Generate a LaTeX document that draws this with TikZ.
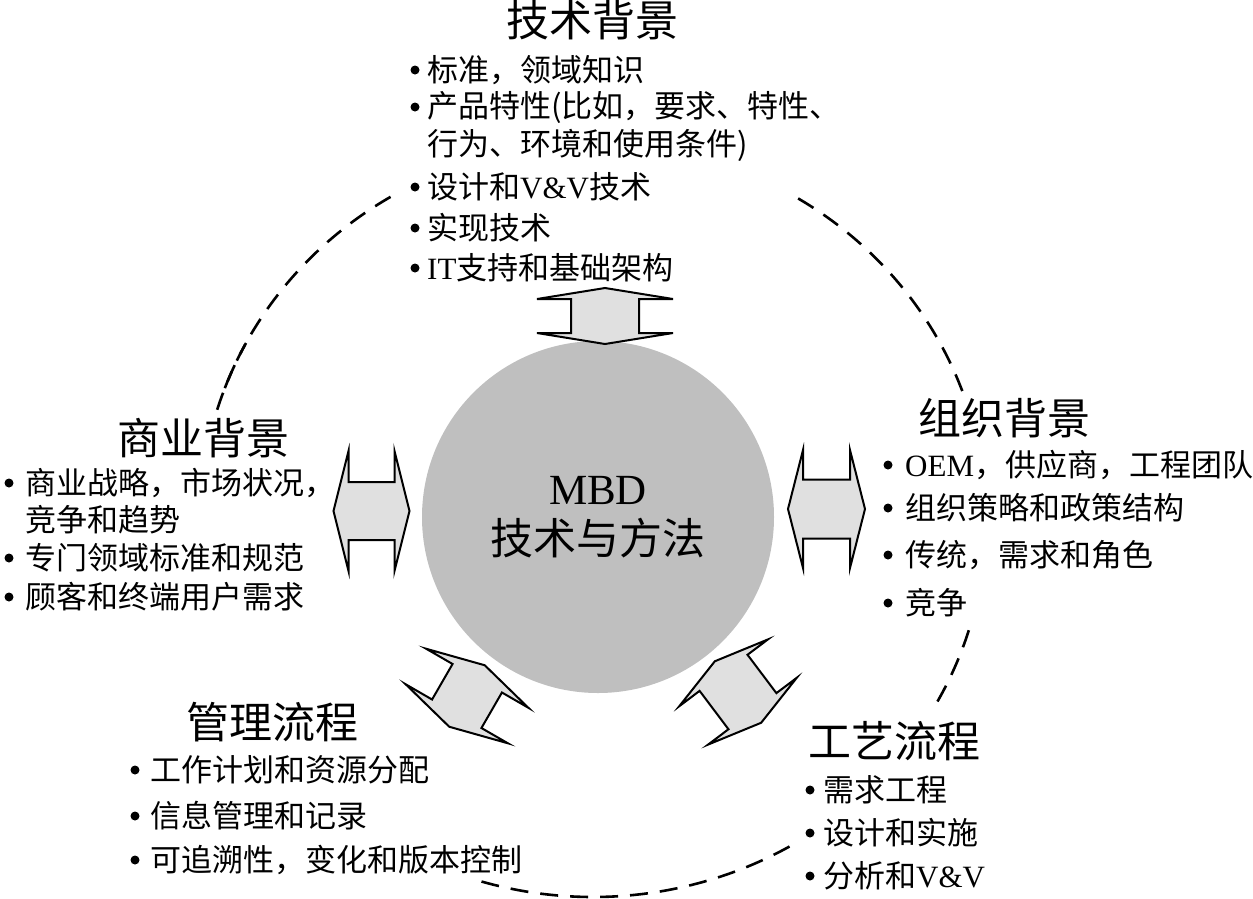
\documentclass[tikz,border=0pt]{standalone}
\usepackage{fontspec}
\setmainfont{Liberation Serif}
\newfontfamily\cjk{Noto Sans CJK SC}
\newcommand\lat[1]{{\rmfamily #1}}

% double block arrow: half shaft length, head length, half shaft width, half head width
\newcommand\blockarrow[4]{%
  \draw[arrowbox] ({-#1-#2},0) -- (-#1,-#4) -- (-#1,-#3) -- (#1,-#3) -- (#1,-#4)
    -- ({#1+#2},0) -- (#1,#4) -- (#1,#3) -- (-#1,#3) -- (-#1,#4) -- cycle;}

\tikzset{
  headtext/.style={font=\cjk\fontsize{43}{43}\selectfont, inner sep=0pt},
  itemtext/.style={font=\cjk\fontsize{31}{31}\selectfont, inner sep=0pt, anchor=west},
  hub/.style={circle, fill=black!25, minimum size=352pt, inner sep=0pt,
    align=center, font=\cjk\fontsize{43}{50}\selectfont},
  arrowbox/.style={draw, line width=2pt, fill=black!12, line join=miter},
  ring/.style={dash pattern=on 18pt off 12pt, line width=2.6pt}
}

\begin{document}
\begin{tikzpicture}[x=1pt,y=-1pt]
\useasboundingbox (0,0) rectangle (1253,898);

% dashed ring, broken by the text blocks
\coordinate (ringc) at (593,520);
\foreach \a/\b in {-121/-161, -20/-59, 17/29, 60/107, 197/208}
{
    \draw[ring] ([shift={(\a:393 and 377)}]ringc) arc[start angle=\a, end angle=\b, x radius=393, y radius=377];
}

% centre
\node[hub] (mbd) at (598,517) {\lat{MBD}\\技术与方法};

% arrows
\begin{scope}[shift={(605,316)}, rotate=90]
\blockarrow{17}{11}{34}{68}
\end{scope}
\begin{scope}[shift={(371.5,511)}]
\blockarrow{23}{15}{29}{60}
\end{scope}
\begin{scope}[shift={(826.5,509)}]
\blockarrow{23.5}{15}{29.5}{59}
\end{scope}
\begin{scope}[shift={(467,696)}, rotate=60]
\blockarrow{20.5}{15}{28.5}{59}
\end{scope}
\begin{scope}[shift={(738,692)}, rotate=-53]
\blockarrow{24}{14.5}{30}{55.5}
\end{scope}

% Technik
\node[headtext] (tech) at (592,20) {技术背景};
\foreach \y/\t [count=\i] in {70/标准，领域知识, 107/产品特性(比如，要求、特性、,
  187/设计和\lat{V\&V}技术, 228/实现技术, 268/\lat{IT}支持和基础架构}
{
    \fill (415,\y) circle (4.5);
    \node[itemtext] (tech-\i) at (427,\y) {\t};
}
\node[itemtext] (tech-c) at (427,145) {行为、环境和使用条件)};

% Geschaeft
\node[headtext] (biz) at (203,438) {商业背景};
\foreach \y/\t [count=\i] in {483/商业战略，市场状况，, 558/专门领域标准和规范, 597/顾客和终端用户需求}
{
    \fill (9,\y) circle (4.5);
    \node[itemtext] (biz-\i) at (25,\y) {\t};
}
\node[itemtext] (biz-c) at (25,520) {竞争和趋势};

% Organisation
\node[headtext] (org) at (1004,418) {组织背景};
\foreach \y/\t [count=\i] in {465/\lat{OEM}，供应商，工程团队, 508/组织策略和政策结构, 555/传统，需求和角色, 603/竞争}
{
    \fill (888,\y) circle (4.5);
    \node[itemtext] (org-\i) at (905,\y) {\t};
}

% Management
\node[headtext] (mgmt) at (272,722) {管理流程};
\foreach \y/\t [count=\i] in {770/工作计划和资源分配, 816/信息管理和记录, 860/可追溯性，变化和版本控制}
{
    \fill (135,\y) circle (4.5);
    \node[itemtext] (mgmt-\i) at (150,\y) {\t};
}

% Prozess
\node[headtext] (proc) at (894,741) {工艺流程};
\foreach \y/\t [count=\i] in {790/需求工程, 833/设计和实施, 876/分析和\lat{V\&V}}
{
    \fill (810,\y) circle (4.5);
    \node[itemtext] (proc-\i) at (823,\y) {\t};
}

\end{tikzpicture}
\end{document}
